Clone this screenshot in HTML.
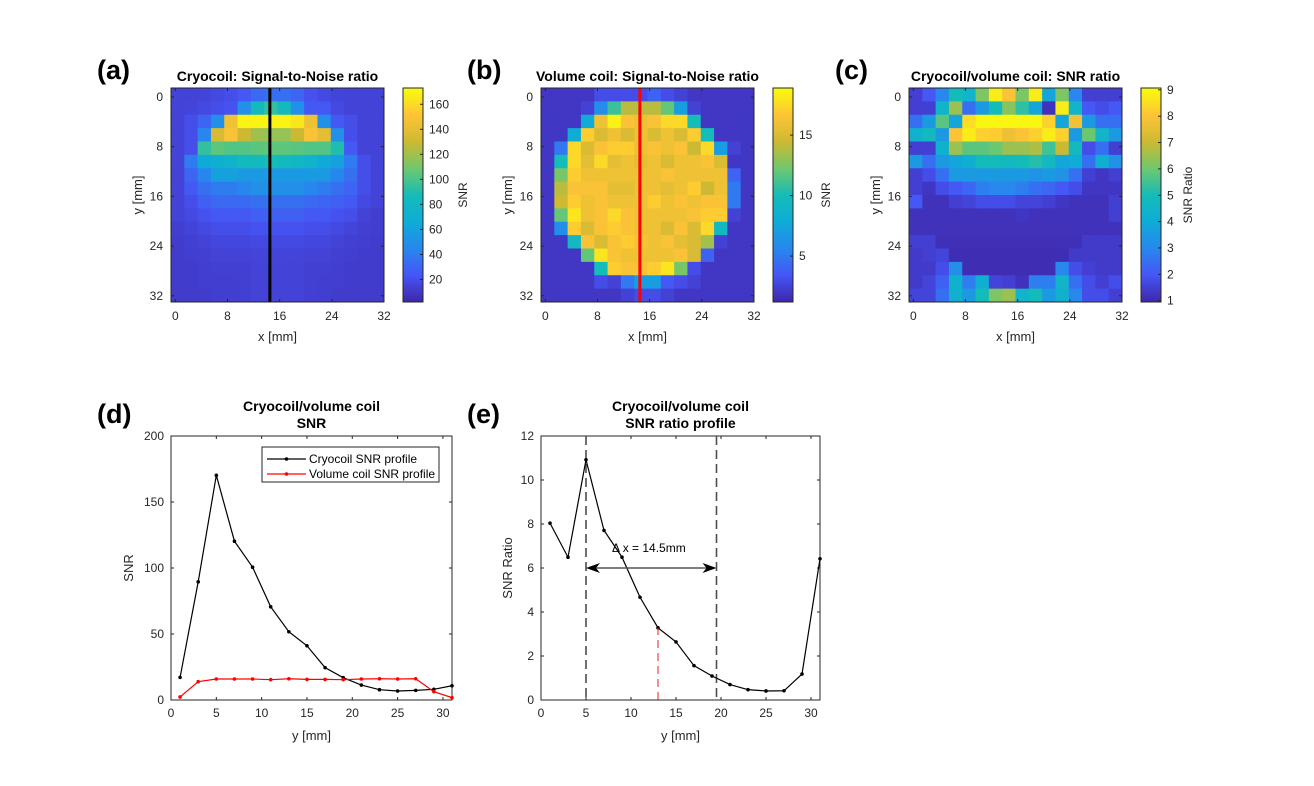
<!DOCTYPE html>
<html><head><meta charset="utf-8">
<style>
html,body{margin:0;padding:0;background:#fff;}
svg{display:block;font-family:"Liberation Sans",Arial,sans-serif;}
</style></head>
<body>
<svg id="fig" width="1314" height="786" viewBox="0 0 1314 786" xmlns="http://www.w3.org/2000/svg">
<rect width="1314" height="786" fill="#fff"/>
</svg>
<script>
// ---------- DATA ----------
const heatA = [
[15,15,16,18,20,25,32,35,35,30,22,18,16,15,15,15],
[15,16,18,20,22,50,85,95,85,50,25,25,18,15,15,15],
[15,20,30,50,145,170,170,170,170,165,145,50,25,20,15,15],
[15,20,45,135,150,130,120,118,118,130,150,140,50,20,15,15],
[15,20,95,105,102,102,104,105,105,104,102,102,90,25,15,15],
[15,40,65,70,75,85,85,88,85,80,75,65,60,40,20,15],
[15,30,45,60,60,55,55,55,55,55,55,55,45,35,20,15],
[15,25,35,40,40,45,50,50,50,50,45,40,35,30,20,15],
[15,20,28,32,32,32,35,35,35,35,32,30,28,25,18,15],
[15,18,22,25,25,25,28,28,28,28,25,25,22,20,15,13],
[13,15,18,20,20,20,22,22,22,22,20,20,18,16,14,13],
[12,14,15,17,17,17,18,18,18,18,17,17,15,14,13,12],
[12,13,14,15,15,15,16,16,16,16,15,15,14,13,12,12],
[12,12,13,14,14,14,15,15,15,15,14,14,13,12,12,12],
[12,12,13,13,13,14,15,15,15,15,14,13,13,12,12,12],
[12,12,12,13,13,14,15,15,15,15,14,13,12,12,12,12]];
const heatB = [
[2,2,2,2,3,3,3,3,4,3,2.5,2,2,2,2,2],
[2,2,2,2.5,6,11,14,14,14,12,7,2.5,2,2,2,2],
[2,2,2,8,16,18.5,16.5,16,16.5,17.5,17.5,10,2,2,2,2],
[2,2,8,17,15,16,15,16,15,16,15,17,10,2,2,2],
[2,5,17.5,15,16.5,17,17,16,16.5,16,16.5,14.5,17.5,7,2.5,2],
[2,10,17.5,15.5,17.5,15.5,16,15.5,16,15,16,16,16.5,15,2,2],
[2,12.5,17,16,16,16,16,16,16,16.5,16,16,16,16,4,2],
[2,14,16.5,16.5,16.5,15.5,15.5,16,16,15.5,16,17,14.5,16,5,2],
[2,14.5,17,16,16.5,16,16,16,17,16,16.5,16,16.5,16.5,5,2],
[2,12,18,16,16.5,17.5,16.5,16,16,16,16,16.5,17,17,2.5,2],
[2,6,17,15,16.5,17,16.5,16,16,15,16.5,15,17.5,9.5,2,2],
[2,2,9.5,16.5,15,16.5,17,16.5,16,16.5,15.5,15,13.5,2.5,2,2],
[2,2,2,12,18,16.5,16,16,16,16,16.5,15,4,2,2,2],
[2,2,2,2,10,17,16.5,16.5,17,18,12.5,3,2,2,2,2],
[2,2,2,2,3,2.5,5,7,7,3.5,3,2.5,2,2,2,2],
[2,2,2,2,2,2,2.5,3,3,2.5,2,2,2,2,2,2]];
const heatC = [
[1.5,2,3,5,4.5,6.2,8.8,8,6.2,8.8,3.8,6.2,3,1.5,1.5,1.5],
[1.5,1.5,4.5,6.5,2.5,3.5,5,6.3,5.3,3.8,1.2,8.8,4.5,2,1.8,2],
[2.5,3.5,5.8,3.8,8.5,9,9,9,9,9,8.3,3.8,7.8,3.5,2.5,2.5],
[4.3,4.8,3.5,8,8.8,8.3,8.2,7.7,8,8.3,8.8,8.3,3.5,6,4.5,3.5],
[1.5,1.5,4.3,6.5,5.8,5.8,6,6.5,6.5,6.7,5.5,7,4.8,1.8,2.5,1.5],
[3.5,2.5,3.5,3.8,4.2,5,5,4.8,5,5.2,4.8,3.8,4,2.5,4.2,3.3],
[1.5,1.8,2.5,3.5,3.5,3.5,3.5,3.5,3.5,3.3,3.5,3.3,2.5,1.5,1.3,1.5],
[1.5,1.3,1.8,2,2.3,2.8,3,3,2.8,2.5,2.3,2,1.8,1.3,1.3,1.3],
[2,1.2,1.2,1.5,1.6,1.8,1.8,1.8,1.6,1.6,1.5,1.3,1.2,1.2,1.2,1.5],
[1.2,1.2,1.2,1.2,1.2,1.2,1.2,1.2,1.3,1.2,1.2,1.2,1.2,1.2,1.2,1.5],
[1.2,1.2,1.2,1.2,1.2,1.2,1.2,1.2,1.2,1.2,1.2,1.2,1.2,1.2,1.2,1.2],
[1.5,1.5,1.15,1.15,1.15,1.15,1.15,1.15,1.15,1.15,1.15,1.15,1.15,1.4,1.4,1.4],
[1.4,1.5,1.6,1.1,1.1,1.1,1.1,1.1,1.1,1.1,1.1,1.1,1.4,1.4,1.4,1.4],
[1.4,1.4,1.8,3.2,1.1,1.1,1.1,1.1,1.1,1.1,1.1,3,1.8,1.5,1.4,1.4],
[1.4,1.6,2.2,4.3,2.8,4.2,1.6,1.5,1.2,2.8,2.8,4.5,2.5,1.8,1.5,1.8],
[1.6,1.6,2.5,4.3,3.5,5,6.2,6.5,4.5,5,3.5,4.3,3,1.8,1.8,1.5]];
const heatTicks = [0,8,16,24,32];
const cbTicksA = [20,40,60,80,100,120,140,160];
const cbTicksB = [5,10,15];
const cbTicksC = [1,2,3,4,5,6,7,8,9];
const profileY = [1,3,5,7,9,11,13,15,17,19,21,23,25,27,29,31];
const cryoSNR = [17.1,89.5,170.2,120.3,100.6,70.6,51.7,41.1,24.5,16.9,11.3,7.8,6.8,7.3,8.1,10.8];
const volSNR = [2.3,13.9,15.9,15.9,15.9,15.4,16.1,15.6,15.6,15.4,15.9,16.1,15.9,16.1,6.3,1.8];
const ratioSNR = [8.04,6.49,10.92,7.71,6.49,4.67,3.28,2.64,1.56,1.09,0.70,0.47,0.41,0.42,1.18,6.42];
const dTicksX = [0,5,10,15,20,25,30];
const dTicksY = [0,50,100,150,200];
const eTicksY = [0,2,4,6,8,10,12];
const edgeLines = [5,19.5];
const halfMark = 13;
const arrowLevel = 6;
const profileLine = 14.5;

// ---------- HELPERS ----------
const svg = document.getElementById('fig');
const NS = 'http://www.w3.org/2000/svg';
function mk(tag, attrs, parent){
  const e = document.createElementNS(NS, tag);
  for (const k in attrs) e.setAttribute(k, attrs[k]);
  (parent||svg).appendChild(e);
  return e;
}
function txt(str, attrs, parent){ const t = mk('text', attrs, parent); t.textContent = str; return t; }
function lin(d0,d1,r0,r1){ return v => r0 + (v-d0)/(d1-d0)*(r1-r0); }
const stops = [[0,[62,38,168]],[0.125,[70,85,245]],[0.25,[40,135,238]],[0.375,[15,172,215]],[0.5,[20,188,185]],[0.625,[110,200,110]],[0.75,[205,185,50]],[0.875,[254,196,55]],[1,[249,251,14]]];
function parula(t){
  t = Math.max(0, Math.min(1, t));
  for (let i=1;i<stops.length;i++){
    if (t <= stops[i][0]){
      const a = stops[i-1], b = stops[i], f = (t-a[0])/(b[0]-a[0]);
      const c = a[1].map((v,j)=>Math.round(v+(b[1][j]-v)*f));
      return `rgb(${c[0]},${c[1]},${c[2]})`;
    }
  }
  return 'rgb(249,251,14)';
}
const TC = '#262626';

function heatPanel(o){
  const g = mk('g', {});
  
  
  const L=o.L, R=o.L+213, T=88, B=302;
  const xs = lin(-0.66, 32, L, R), ys = lin(-1.45, 33, T, B);
  const n = 16, step = 32.66/n, stepY = 34.45/n;
  const cells = mk('g', {}, g);
  
  
  o.data.forEach((row, r) => row.forEach((v, c) => {
    const x0 = xs(-0.66 + c*step), x1 = xs(-0.66 + (c+1)*step);
    const y0 = ys(-1.45 + r*stepY), y1 = ys(-1.45 + (r+1)*stepY);
    const rc = mk('rect', {x:x0, y:y0, width:x1-x0+0.5, height:y1-y0+0.5, fill: parula((v-o.cmin)/(o.cmax-o.cmin))}, cells);
    
    
  }));
  if (o.lineColor){
    const pl = mk('line', {x1:xs(profileLine), x2:xs(profileLine), y1:T, y2:B, stroke:o.lineColor, 'stroke-width':3}, g);
    
    
  }
  mk('rect', {x:L, y:T, width:R-L, height:B-T, fill:'none', stroke:TC, 'stroke-width':1}, g);
  heatTicks.forEach(t => {
    const x = xs(t), y = ys(t);
    mk('line', {x1:x, x2:x, y1:B, y2:B-3, stroke:TC}, g);
    mk('line', {x1:x, x2:x, y1:T, y2:T+3, stroke:TC}, g);
    mk('line', {x1:L, x2:L+3, y1:y, y2:y, stroke:TC}, g);
    mk('line', {x1:R, x2:R-3, y1:y, y2:y, stroke:TC}, g);
    const tx = txt(String(t), {x:x, y:B+18, 'font-size':12, fill:TC, 'text-anchor':'middle'}, g);
     
    const ty = txt(String(t), {x:L-8, y:y+4, 'font-size':12, fill:TC, 'text-anchor':'end'}, g);
     
  });
  const xl = txt('x [mm]', {x:(L+R)/2, y:341, 'font-size':13, fill:TC, 'text-anchor':'middle'}, g);
   
  const yl = txt('y [mm]', {x:0, y:0, 'font-size':13, fill:TC, 'text-anchor':'middle', transform:`translate(${L-29},195) rotate(-90)`}, g);
   
  const ti = txt(o.title, {x:(L+R)/2, y:81, 'font-size':14, 'font-weight':'bold', fill:'#000', 'text-anchor':'middle'}, g);
   
  const pn = txt(o.letter, {x:L-74, y:79, 'font-size':27, 'font-weight':'bold', fill:'#000'}, g);
   
  const cb = mk('g', {}, g);
  
  
  const CL = R+19, CW = 20;
  const cs = lin(o.cmin, o.cmax, B, T);
  for (let i=0;i<100;i++){
    const t0 = i/100, t1=(i+1)/100;
    mk('rect', {x:CL, y:B-(B-T)*t1, width:CW, height:(B-T)/100+0.5, fill:parula((t0+t1)/2)}, cb);
  }
  mk('rect', {x:CL, y:T, width:CW, height:B-T, fill:'none', stroke:TC}, cb);
  o.cbTicks.forEach(t => {
    const y = cs(t);
    mk('line', {x1:CL+CW, x2:CL+CW-3, y1:y, y2:y, stroke:TC}, cb);
    const l = txt(String(t), {x:CL+CW+6, y:y+4, 'font-size':12, fill:TC}, cb);
     
  });
  const cl = txt(o.cbLabel, {x:0,y:0,'font-size':12, fill:TC, 'text-anchor':'middle', transform:`translate(${o.cbLabelX},195) rotate(-90)`}, cb);
   
}

heatPanel({name:'panel-a-cryocoil-snr', L:171, data:heatA, cmin:2, cmax:173, cbTicks:cbTicksA, cbLabel:'SNR', cbLabelX:467, title:'Cryocoil: Signal-to-Noise ratio', letter:'(a)', lineColor:'#000'});
heatPanel({name:'panel-b-volume-snr', L:541, data:heatB, cmin:1.2, cmax:18.9, cbTicks:cbTicksB, cbLabel:'SNR', cbLabelX:830, title:'Volume coil: Signal-to-Noise ratio', letter:'(b)', lineColor:'#ff0000'});
heatPanel({name:'panel-c-snr-ratio', L:909, data:heatC, cmin:0.95, cmax:9.07, cbTicks:cbTicksC, cbLabel:'SNR Ratio', cbLabelX:1192, title:'Cryocoil/volume coil: SNR ratio', letter:'(c)', lineColor:null});

function linePanel(o){
  const g = mk('g', {});
  
  
  const L=o.L, R=o.R, T=436, B=700;
  const xs = lin(0,31,L,R), ys = lin(o.ymin,o.ymax,B,T);
  mk('rect', {x:L, y:T, width:R-L, height:B-T, fill:'#fff', stroke:TC}, g);
  dTicksX.forEach(t => {
    const x = xs(t);
    mk('line', {x1:x,x2:x,y1:B,y2:B-3,stroke:TC}, g);
    mk('line', {x1:x,x2:x,y1:T,y2:T+3,stroke:TC}, g);
    const l = txt(String(t), {x:x, y:B+17, 'font-size':12, fill:TC, 'text-anchor':'middle'}, g);
     
  });
  o.yTicks.forEach(t => {
    const y = ys(t);
    mk('line', {x1:L,x2:L+3,y1:y,y2:y,stroke:TC}, g);
    mk('line', {x1:R,x2:R-3,y1:y,y2:y,stroke:TC}, g);
    const l = txt(String(t), {x:L-7, y:y+4, 'font-size':12, fill:TC, 'text-anchor':'end'}, g);
     
  });
  const xl = txt('y [mm]', {x:(L+R)/2, y:740, 'font-size':13, fill:TC, 'text-anchor':'middle'}, g);
   
  const yl = txt(o.yLabel, {x:0,y:0,'font-size':13, fill:TC, 'text-anchor':'middle', transform:`translate(${o.yLabelX},568) rotate(-90)`}, g);
   
  const t1 = txt('Cryocoil/volume coil', {x:(L+R)/2, y:411, 'font-size':14, 'font-weight':'bold', 'text-anchor':'middle'}, g);
   
  const t2 = txt(o.title2, {x:(L+R)/2, y:428, 'font-size':14, 'font-weight':'bold', 'text-anchor':'middle'}, g);
   
  const pn = txt(o.letter, {x:L-74, y:423, 'font-size':27, 'font-weight':'bold'}, g);
   
  return {g, xs, ys, L, R, T, B};
}
function series(p, vals, color, name){
  const sg = mk('g', {}, p.g);
  
  
  const pts = profileY.map((x,i)=>`${p.xs(x)},${p.ys(vals[i])}`).join(' ');
  mk('polyline', {points:pts, fill:'none', stroke:color, 'stroke-width':1.2}, sg);
  profileY.forEach((x,i)=>{
    const c = mk('circle', {cx:p.xs(x), cy:p.ys(vals[i]), r:1.8, fill:color}, sg);
    
    
  });
}
const pd = linePanel({name:'panel-d-snr-profiles', L:171, R:452, ymin:0, ymax:200, yTicks:dTicksY, yLabel:'SNR', yLabelX:133, title2:'SNR', letter:'(d)'});
series(pd, cryoSNR, '#000', 'cryocoil-snr-series');
series(pd, volSNR, '#ff0000', 'volume-snr-series');
const lg = mk('g', {}, pd.g);


mk('rect', {x:262, y:447, width:177, height:35, fill:'#fff', stroke:TC}, lg);
[['Cryocoil SNR profile','#000',459],['Volume coil SNR profile','#ff0000',474]].forEach(([lab,col,y])=>{
  const e = mk('g', {}, lg);
  
  
  mk('line', {x1:267,x2:306,y1:y,y2:y,stroke:col,'stroke-width':1.2}, e);
  mk('circle', {cx:286.5, cy:y, r:1.8, fill:col}, e);
  txt(lab, {x:309, y:y+4, 'font-size':12, fill:'#000'}, e);
});

const pe = linePanel({name:'panel-e-ratio-profile', L:541, R:820, ymin:0, ymax:12, yTicks:eTicksY, yLabel:'SNR Ratio', yLabelX:512, title2:'SNR ratio profile', letter:'(e)'});
edgeLines.forEach(x=>{
  const l = mk('line', {x1:pe.xs(x), x2:pe.xs(x), y1:pe.T, y2:pe.B, stroke:'#4d4d4d', 'stroke-width':1.6, 'stroke-dasharray':'9,5'}, pe.g);
   
});
series(pe, ratioSNR, '#000', 'snr-ratio-series');
const hm = mk('line', {x1:pe.xs(halfMark), x2:pe.xs(halfMark), y1:pe.B, y2:pe.ys(ratioSNR[profileY.indexOf(halfMark)]), stroke:'#e02020', 'stroke-width':1, 'stroke-dasharray':'8,5'}, pe.g);
 
const ag = mk('g', {}, pe.g);


const ax0 = pe.xs(edgeLines[0]), ax1 = pe.xs(edgeLines[1]), ay = pe.ys(arrowLevel);
mk('line', {x1:ax0+6, x2:ax1-6, y1:ay, y2:ay, stroke:'#555', 'stroke-width':1.5}, ag);
mk('path', {d:`M${ax0},${ay} L${ax0+14},${ay-5} L${ax0+10},${ay} L${ax0+14},${ay+5} Z`, fill:'#000'}, ag);
mk('path', {d:`M${ax1},${ay} L${ax1-14},${ay-5} L${ax1-10},${ay} L${ax1-14},${ay+5} Z`, fill:'#000'}, ag);
const an = txt('Δ x = 14.5mm', {x:612, y:552, 'font-size':12, fill:'#000'}, pe.g);
 
</script>
</body></html>
